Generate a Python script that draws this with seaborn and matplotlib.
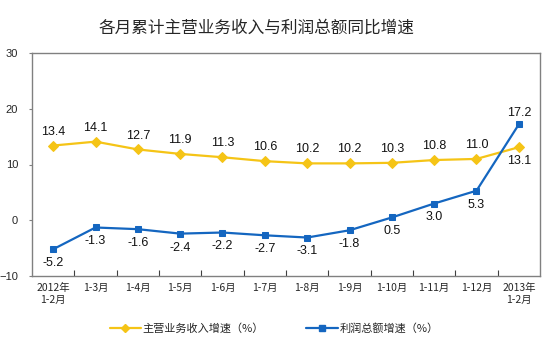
import matplotlib
matplotlib.use("Agg")
import matplotlib.pyplot as plt
import seaborn as sns
import pandas as pd
import numpy as np
from matplotlib.ticker import FixedLocator
from matplotlib.lines import Line2D

categories = ["2012年\n1-2月", "1-3月", "1-4月", "1-5月", "1-6月", "1-7月",
              "1-8月", "1-9月", "1-10月", "1-11月", "1-12月", "2013年\n1-2月"]
revenue = [13.4, 14.1, 12.7, 11.9, 11.3, 10.6, 10.2, 10.2, 10.3, 10.8, 11.0, 13.1]
profit = [-5.2, -1.3, -1.6, -2.4, -2.2, -2.7, -3.1, -1.8, 0.5, 3.0, 5.3, 17.2]
series_names = ["主营业务收入增速（%）", "利润总额增速（%）"]
title = "各月累计主营业务收入与利润总额同比增速"

sns.set_theme(style="white")
plt.rcParams['font.family'] = ['Noto Sans CJK SC', 'DejaVu Sans']

YELLOW = "#F5C416"
BLUE = "#1466C0"

df = pd.DataFrame({"month": categories, "rev": revenue, "prof": profit})

fig = plt.figure(figsize=(5.43, 3.42), dpi=100)
ax = fig.add_axes([32/543, 1-276/342, 508/543, 223/342])

sns.lineplot(data=df, x="month", y="rev", ax=ax, color=YELLOW, marker="D",
             markersize=5, linewidth=1.6, markeredgecolor=YELLOW, sort=False)
sns.lineplot(data=df, x="month", y="prof", ax=ax, color=BLUE, marker="s",
             markersize=5, linewidth=1.6, markeredgecolor=BLUE, sort=False)

ax.set_xlim(-0.5, len(categories) - 0.5)
ax.set_ylim(-10, 30)
ax.set_yticks([-10, 0, 10, 20, 30])
ax.set_xlabel("")
ax.set_ylabel("")

for s in ax.spines.values():
    s.set_color("#808080")
    s.set_linewidth(1.0)

ax.tick_params(axis="y", which="major", length=2, width=0.8, color="#808080",
               labelsize=8, pad=8, left=True, direction="out")
for lab in ax.get_yticklabels():
    lab.set_family(["Liberation Sans", "DejaVu Sans"])
ax.tick_params(axis="x", which="major", length=0, labelsize=7.5, pad=5)
ax.xaxis.set_minor_locator(FixedLocator(np.arange(0.5, len(categories) - 1, 1)))
ax.tick_params(axis="x", which="minor", length=4, width=0.8, color="#404040",
               direction="in", bottom=True)
ax.set_xticks(range(len(categories)))
ax.set_xticklabels(categories, fontsize=7.5, linespacing=1.3)

lab_font = ["Liberation Sans", "DejaVu Sans"]
for i, v in enumerate(revenue):
    off = 10 if i < len(revenue) - 1 else -10
    ax.annotate(f"{v:.1f}", (i, v), xytext=(0, off), textcoords="offset points",
                ha="center", va="center", fontsize=9, family=lab_font, color="#111111")
for i, v in enumerate(profit):
    off = -10 if i < len(profit) - 1 else 8
    ax.annotate(f"{v:.1f}", (i, v), xytext=(0, off), textcoords="offset points",
                ha="center", va="center", fontsize=9, family=lab_font, color="#111111")

fig.text(256/543, 1 - 28/342, title, ha="center", va="center", fontsize=12)

handles = [Line2D([], [], color=YELLOW, marker="D", markersize=4, linewidth=1.6),
           Line2D([], [], color=BLUE, marker="s", markersize=4, linewidth=1.6)]
fig.legend(handles, series_names, loc="center", bbox_to_anchor=(0.505, 1 - 328/342),
           ncol=2, frameon=False, fontsize=8, handlelength=2.8, columnspacing=3.8,
           handletextpad=0.2)

fig.savefig("out.png", dpi=100)
